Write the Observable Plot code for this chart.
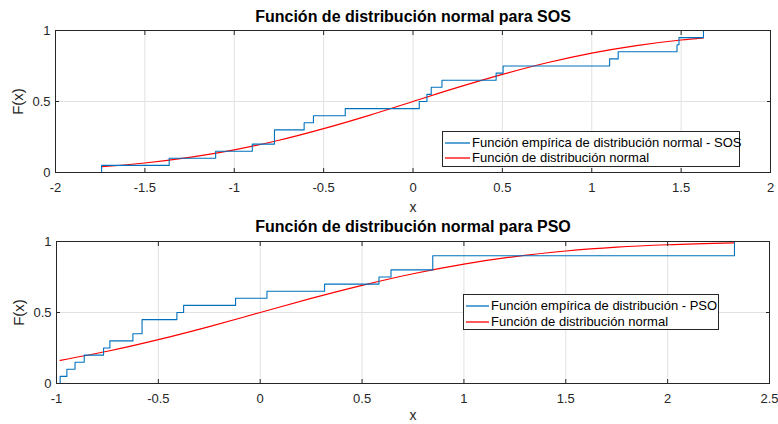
<!DOCTYPE html>
<html><head><meta charset="utf-8">
<script src="https://cdn.jsdelivr.net/npm/d3@7"></script>
<script src="https://cdn.jsdelivr.net/npm/@observablehq/plot@0.6"></script>
<style>
body{margin:0;background:#fff;font-family:"Liberation Sans",Arial,sans-serif;}
#wrap{position:relative;width:778px;height:424px;overflow:hidden}
#wrap > svg{display:block}
.legend{position:absolute;border:1px solid #262626;background:#fff;font-size:13px;color:#000;box-sizing:border-box;}
.sw{position:absolute;left:1px;}
.tx{position:absolute;white-space:nowrap;line-height:16px;transform:translateY(-50%);}
</style></head><body><div id="wrap"></div>
<script>
const sosValues = [-1.742, -1.364, -1.104, -0.899, -0.775, -0.775, -0.609, -0.557, -0.379, 0.035,
                   0.078, 0.102, 0.162, 0.465, 0.504, 1.100, 1.148, 1.477, 1.488, 1.625];
const psoValues = [-0.982, -0.949, -0.909, -0.864, -0.769, -0.738, -0.625, -0.580, -0.580, -0.409,
                   -0.376, -0.121, 0.033, 0.316, 0.583, 0.642, 0.847, 0.847, 2.328, 2.328];
// Normal distribution curve values
const sosNormX = [-1.742, -1.5, -1.25, -1, -0.75, -0.5, -0.25, 0, 0.25, 0.5, 0.75, 1, 1.25, 1.5, 1.625];
const sosNormF = [0.041, 0.067, 0.106, 0.159, 0.227, 0.309, 0.401, 0.5, 0.599, 0.691, 0.773, 0.841, 0.894, 0.933, 0.948];
const psoNormX = [-0.982, -0.75, -0.5, -0.25, 0, 0.25, 0.5, 0.75, 1, 1.25, 1.5, 1.75, 2, 2.328];
const psoNormF = [0.163, 0.227, 0.309, 0.401, 0.5, 0.599, 0.691, 0.773, 0.841, 0.894, 0.933, 0.960, 0.977, 0.990];
// Tick labels
const sosXTicks = [-2, -1.5, -1, -0.5, 0, 0.5, 1, 1.5, 2];
const psoXTicks = [-1, -0.5, 0, 0.5, 1, 1.5, 2, 2.5];
const yTicks = [0, 0.5, 1];
const titles = ["Función de distribución normal para SOS", "Función de distribución normal para PSO"];
const legendSOS = ["Función empírica de distribución normal - SOS", "Función de distribución normal"];
const legendPSO = ["Función empírica de distribución - PSO", "Función de distribución normal"];

const BLUE = "#0072BD", RED = "#FF0000", AX = "#262626";

function ecdf(vals){
  const s = [...vals].sort((a,b)=>a-b), n = s.length;
  const pts = [{x:s[0], y:0}];
  s.forEach((v,i)=>pts.push({x:v, y:(i+1)/n}));
  return pts;
}
const fmt = d => String(d);

function panel({title, values, normX, normF, xDomain, xTicks, height, mt, mb, ml, mr, titleDy, xlabDy}){
  return Plot.plot({
    width: 778, height, marginTop: mt, marginBottom: mb, marginLeft: ml, marginRight: mr,
    style: {fontFamily: '"Liberation Sans", Arial, sans-serif', fontSize: "13px", background: "#fff", color: AX},
    x: {domain: xDomain},
    y: {domain: [0, 1]},
    marks: [
      Plot.gridX(xTicks, {stroke: "#e2e2e2", strokeOpacity: 1}),
      Plot.gridY(yTicks, {stroke: "#e2e2e2", strokeOpacity: 1}),
      Plot.line(normX.map((x,i)=>({x, y: normF[i]})), {x:"x", y:"y", curve:"monotone-x", stroke: RED, strokeWidth: 1.2}),
      Plot.line(ecdf(values), {x:"x", y:"y", curve:"step-after", stroke: BLUE, strokeWidth: 1.1}),
      Plot.frame({stroke: AX}),
      Plot.axisX(xTicks, {anchor:"bottom", tickSize:-4, tickPadding:14, tickFormat: fmt, label:null, fill: AX}),
      Plot.axisX(xTicks, {anchor:"top", tickSize:-4, tickFormat: ()=>"", label:null}),
      Plot.axisY(yTicks, {anchor:"left", tickSize:-4, tickPadding:9, tickFormat: fmt, label:null, fill: AX}),
      Plot.axisY(yTicks, {anchor:"right", tickSize:-4, tickFormat: ()=>"", label:null}),
      Plot.text([title], {text: d=>d, frameAnchor:"top", lineAnchor:"middle", textAnchor:"middle", dy: titleDy, fontWeight:"bold", fontSize:16, fill:"#000"}),
      Plot.text(["x"], {text: d=>d, frameAnchor:"bottom", lineAnchor:"middle", textAnchor:"middle", dy: xlabDy, fontSize:14, fill: AX}),
      Plot.text(["F(x)"], {text: d=>d, frameAnchor:"left", lineAnchor:"middle", textAnchor:"middle", dx:-37, rotate:-90, fontSize:15, fill: AX})
    ]
  });
}

const wrap = document.getElementById("wrap");
wrap.appendChild(panel({title: titles[0], values: sosValues, normX: sosNormX, normF: sosNormF,
  xDomain: [-2, 2], xTicks: sosXTicks, height: 218, mt: 30, mb: 46, ml: 55, mr: 8, titleDy: -14, xlabDy: 35}));
wrap.appendChild(panel({title: titles[1], values: psoValues, normX: psoNormX, normF: psoNormF,
  xDomain: [-1, 2.5], xTicks: psoXTicks, height: 206, mt: 23, mb: 41, ml: 56, mr: 9, titleDy: -15, xlabDy: 32.5}));

function legend(labels, box, swLen){
  const d = document.createElement("div");
  d.className = "legend";
  Object.assign(d.style, {left: box[0]+"px", top: box[1]+"px", width: box[2]+"px", height: box[3]+"px"});
  const rows = [box[4], box[5]];
  [BLUE, RED].forEach((c, i) => {
    const ns = "http://www.w3.org/2000/svg";
    const s = document.createElementNS(ns, "svg");
    s.setAttribute("class", "sw");
    s.setAttribute("width", swLen + 2);
    s.setAttribute("height", 4);
    s.style.top = (rows[i] - 2) + "px";
    const l = document.createElementNS(ns, "line");
    l.setAttribute("x1", 1); l.setAttribute("x2", swLen + 1);
    l.setAttribute("y1", 2); l.setAttribute("y2", 2);
    l.setAttribute("stroke", c); l.setAttribute("stroke-width", 1.3);
    s.appendChild(l);
    d.appendChild(s);
    const t = document.createElement("div");
    t.className = "tx";
    Object.assign(t.style, {left: (swLen+4)+"px", top: rows[i]+"px"});
    t.textContent = labels[i];
    d.appendChild(t);
  });
  wrap.appendChild(d);
}
legend(legendSOS, [442, 131, 298, 36, 10.5, 26], 25);
legend(legendPSO, [463, 294, 256, 36, 11, 26.5], 23);
</script></body></html>
